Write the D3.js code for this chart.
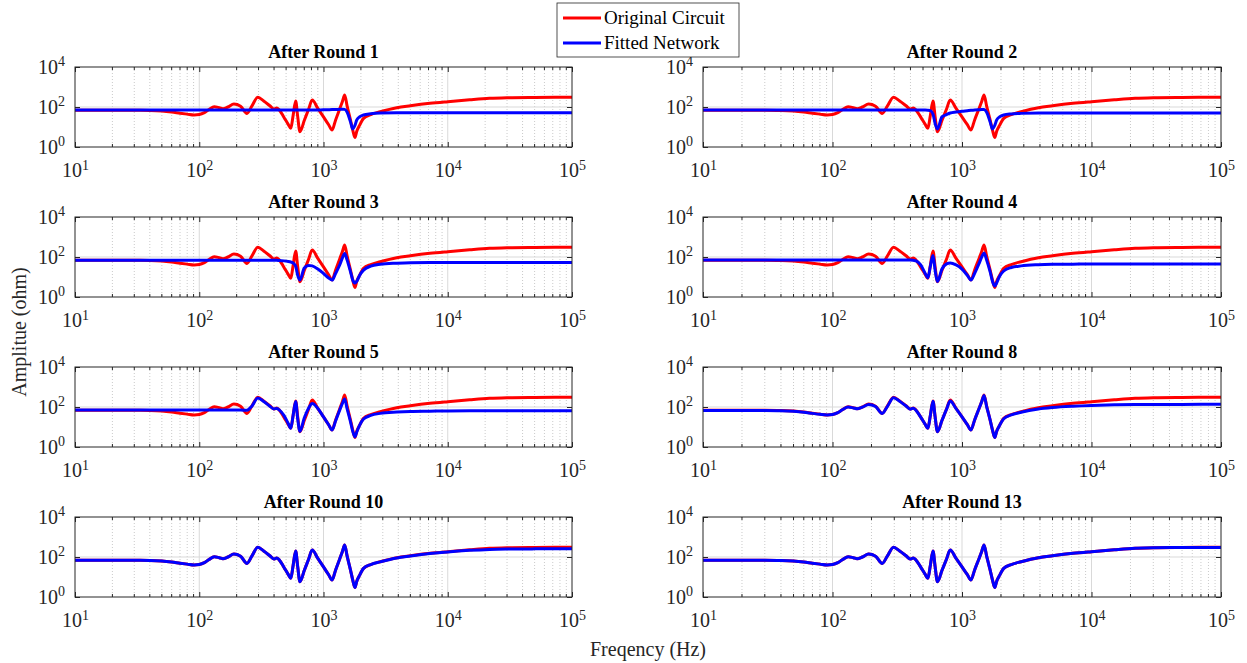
<!DOCTYPE html>
<html>
<head>
<meta charset="utf-8">
<script src="https://cdn.jsdelivr.net/npm/d3@7"></script>
<style>
	body { margin: 0; background: #fff; }
	svg { font-family: "Liberation Serif", "Times New Roman", serif; }
</style>
</head>
<body>
<div id="chart"></div>
<script>
// frequency grid (Hz) shared by every curve
const freq = [10, 20, 30, 40, 50, 60, 70, 80, 91, 100,
	110, 120, 132, 145, 155, 170, 190, 215, 242, 265,
	296, 330, 370, 398, 420, 440, 480, 520, 545, 570,
	597, 620, 646, 700, 760, 811, 900, 1000, 1100, 1173,
	1250, 1350, 1420, 1480, 1550, 1650, 1720, 1790, 1850, 1950,
	2100, 2400, 2860, 3890, 5000, 7180, 10000, 15000, 21700, 30000,
	50000, 100000];

// amplitude of the original circuit (ohm)
const original = [68, 68, 68, 67, 63, 56, 49, 44, 40, 42,
	52, 75, 104, 92, 82, 100, 141, 110, 48, 110,
	305, 200, 115, 80, 88, 72, 31, 13.5, 8.6, 39,
	200, 33, 5.8, 21, 80, 224, 85, 32, 13, 7.1,
	22, 80, 190, 400, 110, 22, 7, 3, 6, 12,
	27, 42, 58, 92, 115, 152, 185, 230, 272, 290,
	300, 305];

// amplitude of the fitted network after each round (ohm)
const fitRound1 = [70, 70, 70, 70, 70, 70, 70, 70, 70, 70,
	70, 70, 70, 70, 70, 70, 70, 70, 70, 70,
	70, 70, 70, 70, 70, 70, 70, 70, 70, 70,
	70, 70, 70, 70, 70, 70, 71, 72, 73, 74,
	75, 77, 78, 76, 55, 18, 8, 12, 22, 32,
	40, 46, 50, 52, 52, 52, 52, 52, 52, 52,
	52, 52];
const fitRound2 = [70, 70, 70, 70, 70, 70, 70, 70, 70, 70,
	70, 70, 70, 70, 70, 70, 70, 70, 70, 70,
	70, 70, 70, 70, 70, 70, 70, 70, 69, 66,
	45, 15, 8, 32, 42, 50, 56, 61, 65, 68,
	70, 73, 75, 74, 55, 18, 8, 12, 22, 32,
	40, 45, 48, 50, 50, 50, 50, 50, 50, 50,
	50, 50];
const fitRound3 = [68, 68, 68, 68, 68, 68, 68, 68, 68, 68,
	68, 68, 68, 68, 68, 68, 68, 68, 68, 68,
	68, 68, 68, 68, 68, 66, 64, 60, 56, 50,
	35, 12, 7, 28, 38, 36, 25, 15, 9, 7,
	15, 40, 90, 150, 70, 18, 7, 5, 6, 12,
	22, 35, 43, 49, 52, 53, 53, 53, 53, 53,
	53, 53];
const fitRound4 = [70, 70, 70, 70, 70, 70, 70, 70, 70, 70,
	70, 70, 70, 70, 70, 70, 70, 70, 70, 70,
	70, 70, 70, 70, 68, 65, 40, 15, 9, 35,
	120, 22, 6, 25, 45, 50, 40, 25, 12, 7,
	15, 45, 100, 160, 70, 18, 6, 3.5, 5, 11,
	20, 30, 36, 41, 43, 44, 45, 45, 45, 45,
	45, 45];
const fitRound5 = [70, 70, 70, 70, 70, 70, 70, 70, 70, 70,
	70, 70, 70, 70, 70, 70, 70, 70, 68, 110,
	280, 190, 110, 80, 85, 72, 38, 15, 8.6, 40,
	190, 25, 6, 28, 90, 150, 85, 32, 13, 7,
	20, 70, 150, 250, 80, 18, 6, 3.2, 5.5, 12,
	25, 38, 48, 56, 60, 62, 64, 65, 65, 65,
	65, 65];
const fitRound8 = [66, 66, 66, 65, 61, 55, 48, 43, 40, 42,
	52, 75, 100, 90, 82, 98, 135, 105, 48, 105,
	290, 195, 112, 78, 86, 70, 31, 13.5, 8.6, 39,
	195, 32, 5.8, 21, 78, 200, 82, 32, 13, 7.1,
	22, 80, 185, 380, 105, 22, 7, 3, 6, 12,
	26, 40, 55, 80, 95, 110, 120, 128, 132, 134,
	135, 136];
const fitRound10 = [68, 68, 68, 67, 63, 56, 49, 44, 40, 42,
	52, 75, 104, 92, 82, 100, 141, 110, 48, 110,
	305, 200, 115, 80, 88, 72, 31, 13.5, 8.6, 39,
	200, 33, 5.8, 21, 80, 224, 85, 32, 13, 7.1,
	22, 80, 190, 400, 110, 22, 7, 3, 6, 12,
	27, 42, 57, 90, 112, 148, 180, 215, 240, 250,
	255, 258];
const fitRound13 = [68, 68, 68, 67, 63, 56, 49, 44, 40, 42,
	52, 75, 104, 92, 82, 100, 141, 110, 48, 110,
	305, 200, 115, 80, 88, 72, 31, 13.5, 8.6, 39,
	200, 33, 5.8, 21, 80, 224, 85, 32, 13, 7.1,
	22, 80, 190, 400, 110, 22, 7, 3, 6, 12,
	27, 42, 58, 92, 115, 152, 185, 230, 272, 290,
	298, 302];

const panelTitles = ["After Round 1", "After Round 2", "After Round 3", "After Round 4",
	"After Round 5", "After Round 8", "After Round 10", "After Round 13"];
const fittedSeries = [fitRound1, fitRound2, fitRound3, fitRound4,
	fitRound5, fitRound8, fitRound10, fitRound13];
const xTickValues = [1e1, 1e2, 1e3, 1e4, 1e5];
const yTickValues = [1e0, 1e2, 1e4];
const legendLabels = ["Original Circuit", "Fitted Network"];
const xLabel = "Freqency (Hz)";
const yLabel = "Amplitue (ohm)";

// layout
const WIDTH = 1247, HEIGHT = 663;
const COLUMNS = [{ left: 75, right: 572 }, { left: 703, right: 1221 }];
const ROW_TOPS = [67, 217, 367, 517];
const PANEL_H = 80;
const COLORS = { original: "#ff0000", fitted: "#0000ff", axis: "#262626", grid: "#d9d9d9" };

const svg = d3.select("#chart").append("svg")
	.attr("width", WIDTH)
	.attr("height", HEIGHT);

/**
 * writes "10" with the exponent as superscript into a text selection
 */
function powerLabel(text, value) {
	text.text("10");
	text.append("tspan")
		.attr("dy", "-0.55em")
		.attr("font-size", "14px")
		.text(Math.round(Math.log10(value)));
}

/**
 * renders one subplot
 */
function renderPanel(index) {
	const col = COLUMNS[index % 2];
	const top = ROW_TOPS[Math.floor(index / 2)];
	const width = col.right - col.left;

	const x = d3.scaleLog().domain([1e1, 1e5]).range([0, width]);
	const y = d3.scaleLog().domain([1e0, 1e4]).range([PANEL_H, 0]);

	const g = svg.append("g")
		.attr("transform", "translate(" + col.left + "," + top + ")");

	// minor grid (2..9 x 10^k), dotted
	const minor = x.ticks().filter(d => xTickValues.indexOf(d) < 0);
	g.append("g").selectAll("line")
		.data(minor)
		.enter().append("line")
		.attr("x1", d => x(d)).attr("x2", d => x(d))
		.attr("y1", 0).attr("y2", PANEL_H)
		.attr("stroke", "#bdbdbd")
		.attr("stroke-width", 0.8)
		.attr("stroke-dasharray", "1,2");

	// major grid
	g.append("g").selectAll("line")
		.data(xTickValues.slice(1, -1))
		.enter().append("line")
		.attr("x1", d => x(d)).attr("x2", d => x(d))
		.attr("y1", 0).attr("y2", PANEL_H)
		.attr("stroke", COLORS.grid);
	g.append("g").selectAll("line")
		.data(yTickValues.slice(1, -1))
		.enter().append("line")
		.attr("x1", 0).attr("x2", width)
		.attr("y1", d => y(d)).attr("y2", d => y(d))
		.attr("stroke", COLORS.grid);

	// curves
	const clipId = "clip" + index;
	g.append("clipPath").attr("id", clipId)
		.append("rect").attr("width", width).attr("height", PANEL_H);

	const line = d3.line()
		.x(d => x(d[0]))
		.y(d => y(d[1]))
		.curve(d3.curveMonotoneX);

	const curves = g.append("g").attr("clip-path", "url(#" + clipId + ")");
	curves.append("path")
		.attr("d", line(d3.zip(freq, original)))
		.attr("fill", "none")
		.attr("stroke", COLORS.original)
		.attr("stroke-width", 3)
		.attr("stroke-linejoin", "round");
	curves.append("path")
		.attr("d", line(d3.zip(freq, fittedSeries[index])))
		.attr("fill", "none")
		.attr("stroke", COLORS.fitted)
		.attr("stroke-width", 3)
		.attr("stroke-linejoin", "round");

	// axes: inward ticks on all four sides
	const bottom = g.append("g")
		.attr("transform", "translate(0," + PANEL_H + ")")
		.call(d3.axisBottom(x).tickValues(xTickValues).tickSizeInner(-5).tickSizeOuter(0).tickPadding(16));
	bottom.selectAll(".tick text").each(function (d) { powerLabel(d3.select(this), d); });

	g.append("g")
		.call(d3.axisTop(x).tickValues(xTickValues).tickSizeInner(-5).tickSizeOuter(0).tickFormat(""));

	// minor x ticks, top and bottom
	[0, PANEL_H].forEach(function (yy) {
		g.append("g").selectAll("line")
			.data(minor)
			.enter().append("line")
			.attr("x1", d => x(d)).attr("x2", d => x(d))
			.attr("y1", yy).attr("y2", yy === 0 ? 3 : PANEL_H - 3)
			.attr("stroke", COLORS.axis);
	});

	const left = g.append("g")
		.call(d3.axisLeft(y).tickValues(yTickValues).tickSizeInner(-5).tickSizeOuter(0).tickPadding(10));
	left.selectAll(".tick text").each(function (d) { powerLabel(d3.select(this), d); });

	g.append("g")
		.attr("transform", "translate(" + width + ",0)")
		.call(d3.axisRight(y).tickValues(yTickValues).tickSizeInner(-5).tickSizeOuter(0).tickFormat(""));

	g.selectAll(".domain").remove();
	g.selectAll(".tick line").attr("stroke", COLORS.axis);
	g.selectAll(".tick text")
		.attr("fill", COLORS.axis)
		.attr("font-size", "20px")
		.attr("font-family", "Liberation Serif, serif");

	// box
	g.append("rect")
		.attr("width", width)
		.attr("height", PANEL_H)
		.attr("fill", "none")
		.attr("stroke", COLORS.axis)
		.attr("stroke-width", 1);

	// title
	g.append("text")
		.attr("x", width / 2)
		.attr("y", -9)
		.attr("text-anchor", "middle")
		.attr("font-size", "18px")
		.attr("font-weight", "bold")
		.attr("fill", "#000")
		.text(panelTitles[index]);
}

panelTitles.forEach((t, i) => renderPanel(i));

// shared axis labels
svg.append("text")
	.attr("x", (COLUMNS[0].left + COLUMNS[1].right) / 2)
	.attr("y", 656)
	.attr("text-anchor", "middle")
	.attr("font-size", "20px")
	.attr("fill", COLORS.axis)
	.text(xLabel);

svg.append("text")
	.attr("transform", "translate(26," + (ROW_TOPS[0] + ROW_TOPS[3] + PANEL_H) / 2 + ") rotate(-90)")
	.attr("text-anchor", "middle")
	.attr("font-size", "20px")
	.attr("fill", COLORS.axis)
	.text(yLabel);

// legend
const legend = svg.append("g").attr("transform", "translate(557,3)");
legend.append("rect")
	.attr("width", 182)
	.attr("height", 54)
	.attr("fill", "#fff")
	.attr("stroke", COLORS.axis)
	.attr("stroke-width", 0.8);
[COLORS.original, COLORS.fitted].forEach(function (c, i) {
	const yy = 15 + i * 25;
	legend.append("line")
		.attr("x1", 6).attr("x2", 44)
		.attr("y1", yy).attr("y2", yy)
		.attr("stroke", c)
		.attr("stroke-width", 3);
	legend.append("text")
		.attr("x", 47)
		.attr("y", yy + 6)
		.attr("font-size", "19px")
		.attr("fill", "#000")
		.text(legendLabels[i]);
});
</script>
</body>
</html>
